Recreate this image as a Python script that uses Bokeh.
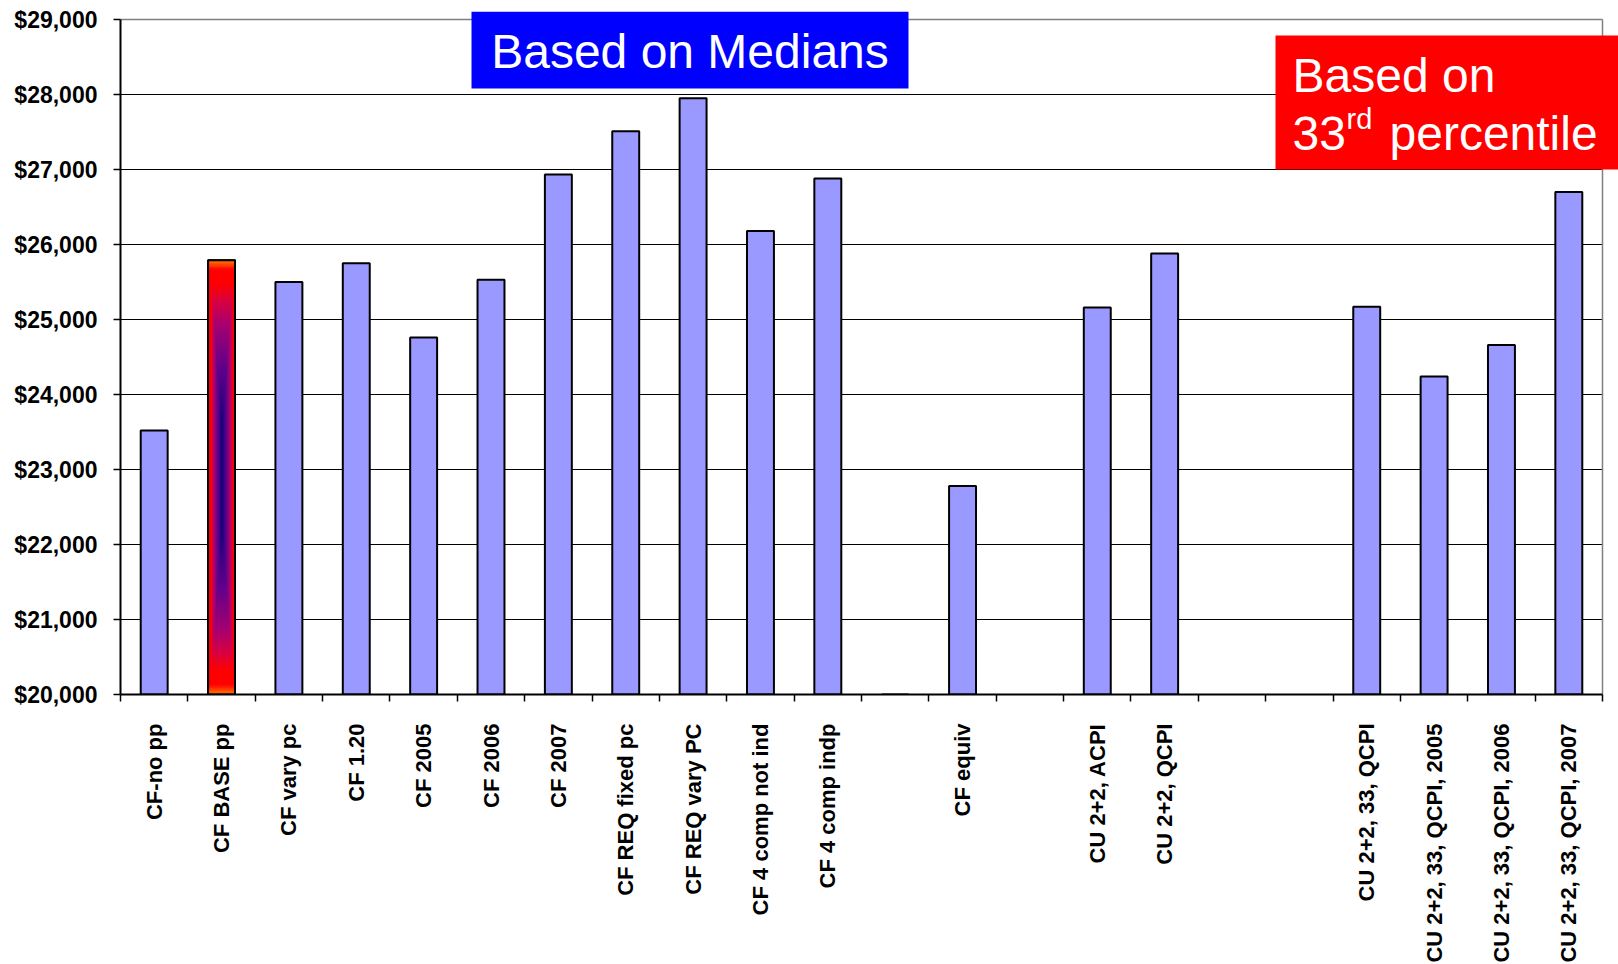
import math
import numpy as np
from bokeh.plotting import figure
from bokeh.models import (ColumnDataSource, FixedTicker, NumeralTickFormatter,
                          BoxAnnotation, Label, Range1d)
from bokeh.embed import file_html
from bokeh.resources import INLINE

nan = float("nan")

# ---------------- data ----------------
labels = ["CF-no pp", "CF BASE pp", "CF vary pc", "CF 1.20", "CF 2005", "CF 2006",
          "CF 2007", "CF REQ fixed pc", "CF REQ vary PC", "CF 4 comp not ind",
          "CF 4 comp indp", "", "CF equiv", "", "CU 2+2, ACPI", "CU 2+2, QCPI",
          "", "", "CU 2+2, 33, QCPI", "CU 2+2, 33, QCPI, 2005",
          "CU 2+2, 33, QCPI, 2006", "CU 2+2, 33, QCPI, 2007"]
costs = [23520, 25790, 25500, 25750, 24760, 25530,
         26935, 27510, 27950, 26180,
         26880, 20000, 22780, nan, 25160, 25880,
         nan, nan, 25170, 24240,
         24660, 26700]
highlight = "CF BASE pp"
y_min, y_max, y_step = 20000, 29000, 1000
box1_text = "Based on Medians"
box2_line1 = "Based on"
box2_num = "33"
box2_sup = "rd"
box2_rest = "percentile"

# ---------------- geometry (reference screen pixels) ----------------
FL, FR, FT, FB = 120, 1602, 19, 694      # plot area
CANVAS_R, CANVAS_T = 1618, 11            # drawing area extends to here
n = len(labels)


def xd(px):
    return (px - FL) / (FR - FL) * n


def yd(py):
    return y_max - (py - FT) / (FB - FT) * (y_max - y_min)


centers = [i + 0.5 for i in range(n)]
BAR_W = 0.4
BL = 15  # label baseline correction (px)

p = figure(frame_width=CANVAS_R - FL, frame_height=FB - CANVAS_T,
           x_range=Range1d(0, xd(CANVAS_R)), y_range=Range1d(y_min, yd(CANVAS_T)),
           output_backend="svg", toolbar_location=None, title=None,
           min_border_left=FL, min_border_top=CANVAS_T, min_border_right=0,
           background_fill_color="white", border_fill_color="white")
p.outline_line_color = None
p.xgrid.visible = False
p.ygrid.visible = False

# gridlines and plot-area border
grid_vals = list(range(y_min + y_step, y_max, y_step))
p.segment(x0=[0] * len(grid_vals), x1=[n] * len(grid_vals), y0=grid_vals, y1=grid_vals,
          line_color="black", line_width=1)
p.segment(x0=[0, n], x1=[n, n], y0=[y_max, y_min], y1=[y_max, y_max],
          line_color="#808080", line_width=1.5)

# y axis
p.yaxis.bounds = (y_min, y_max)
p.yaxis.ticker = FixedTicker(ticks=list(range(y_min, y_max + 1, y_step)))
p.yaxis.formatter = NumeralTickFormatter(format="$0,0")
p.yaxis.axis_line_color = "black"
p.yaxis.axis_line_width = 2
p.yaxis.major_tick_line_color = "black"
p.yaxis.major_tick_line_width = 1.5
p.yaxis.major_tick_out = 7
p.yaxis.major_tick_in = 0
p.yaxis.minor_tick_line_color = None
p.yaxis.major_label_standoff = 16
p.yaxis.major_label_text_font = "Liberation Sans"
p.yaxis.major_label_text_font_style = "bold"
p.yaxis.major_label_text_font_size = "23px"
p.yaxis.major_label_text_color = "black"

# x axis
lab_ticks = [c for c, l in zip(centers, labels) if l]
p.xaxis.bounds = (0, n)
p.xaxis.ticker = FixedTicker(ticks=lab_ticks, minor_ticks=list(range(0, n + 1)))
p.xaxis.major_label_overrides = {c: l for c, l in zip(centers, labels) if l}
p.xaxis.major_label_orientation = math.pi / 2
p.xaxis.axis_line_color = "black"
p.xaxis.axis_line_width = 2
p.xaxis.major_tick_line_color = None
p.xaxis.major_tick_out = 0
p.xaxis.major_tick_in = 0
p.xaxis.minor_tick_line_color = "black"
p.xaxis.minor_tick_line_width = 1.5
p.xaxis.minor_tick_out = 7
p.xaxis.minor_tick_in = 0
p.xaxis.major_label_standoff = 22
p.xaxis.major_label_text_font = "Liberation Sans"
p.xaxis.major_label_text_font_style = "bold"
p.xaxis.major_label_text_font_size = "22px"
p.xaxis.major_label_text_color = "black"

# bars
src = ColumnDataSource(dict(x=centers, top=costs, bottom=[y_min] * n))
p.vbar(x="x", top="top", bottom="bottom", width=BAR_W, source=src,
       fill_color="#9999FF", line_color="black", line_width=2)

# gradient-filled highlighted bar
hi = labels.index(highlight)
nx, ny = 40, 300
u = np.linspace(-1, 1, nx)
v = np.linspace(-1, 1, ny)
U, V = np.meshgrid(u, v)
hv = np.interp(np.abs(V), [0, 0.25, 0.5, 0.7, 0.85, 0.93, 1.0],
               [0, 0.05, 0.3, 0.55, 0.8, 0.9, 1.0])
hu = np.interp(np.abs(U), [0, 0.3, 0.6, 0.8, 1.0], [0, 0.3, 0.6, 0.85, 0.92])
r = np.maximum(hu, hv)
stops = [0.0, 0.3, 0.55, 0.75, 0.86, 0.94, 1.0]
R = np.interp(r, stops, [15, 95, 165, 220, 255, 255, 255])
G = np.interp(r, stops, [0, 0, 0, 0, 0, 0, 115])
B = np.interp(r, stops, [120, 140, 115, 60, 0, 0, 0])
img = np.empty((ny, nx), dtype=np.uint32)
view = img.view(dtype=np.uint8).reshape((ny, nx, 4))
view[:, :, 0] = R.astype(np.uint8)
view[:, :, 1] = G.astype(np.uint8)
view[:, :, 2] = B.astype(np.uint8)
view[:, :, 3] = 255
p.image_rgba(image=[img], x=centers[hi] - BAR_W / 2, y=y_min,
             dw=BAR_W, dh=costs[hi] - y_min)
p.vbar(x=[centers[hi]], top=[costs[hi]], bottom=[y_min], width=BAR_W,
       fill_color=None, line_color="black", line_width=2)

# annotation boxes
p.add_layout(BoxAnnotation(left=xd(471), right=xd(908), top=yd(11), bottom=yd(88),
                           fill_color="#0000FF", fill_alpha=1.0, line_color=None))
p.add_layout(Label(x=xd(689.5), y=yd(66 - BL), text=box1_text, text_align="center",
                   text_baseline="alphabetic", text_color="white",
                   text_font="Liberation Sans", text_font_size="48px"))

p.add_layout(BoxAnnotation(left=xd(1275), right=xd(CANVAS_R), top=yd(35), bottom=yd(169),
                           fill_color="#FF0000", fill_alpha=1.0, line_color=None))
for txt, px, py, fs in [(box2_line1, 1292, 90, "48px"), (box2_num, 1292, 148, "48px"),
                        (box2_sup, 1346, 133, "29px"), (box2_rest, 1389, 148, "48px")]:
    p.add_layout(Label(x=xd(px), y=yd(py - BL), text=txt, text_align="left",
                       text_baseline="alphabetic", text_color="white",
                       text_font="Liberation Sans", text_font_size=fs))

open("out.html", "w").write(file_html(p, INLINE))
